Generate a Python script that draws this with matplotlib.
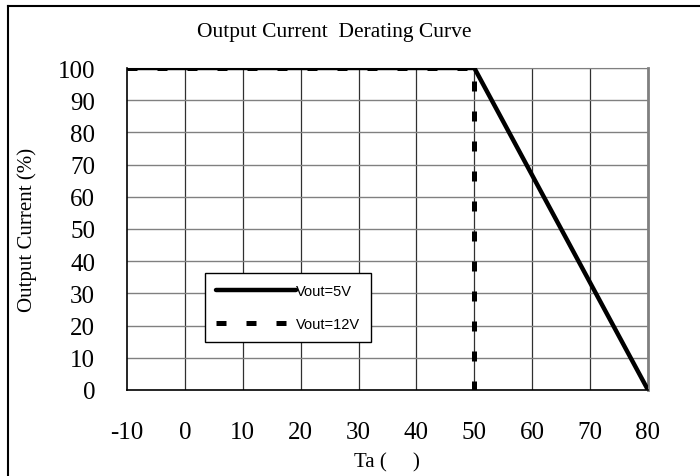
import matplotlib.pyplot as plt
import matplotlib.lines as mlines

# data
ta_5v = [-10, 50, 80]
cur_5v = [100, 100, 0]
ta_12v = [-10, 50, 50]
cur_12v = [100, 100, 0]
x_ticks = [-10, 0, 10, 20, 30, 40, 50, 60, 70, 80]
x_labels = ['-10', '0', '10', '20', '30', '40', '50', '60', '70', '80']
y_ticks = [0, 10, 20, 30, 40, 50, 60, 70, 80, 90, 100]

plt.rcParams['font.family'] = ['Liberation Serif', 'DejaVu Serif']

fig = plt.figure(figsize=(7, 4.77), dpi=100)
ax = fig.add_axes([127/700, 1 - 391/477, 521/700, 322/477])

# outer frame (clipped on right and bottom like the original)
fig.add_artist(mlines.Line2D([8/700, 8/700], [0, 1 - 7/477], color='black', lw=1.5,
                             transform=fig.transFigure))
fig.add_artist(mlines.Line2D([8/700, 1], [1 - 7/477, 1 - 7/477], color='black', lw=1.5,
                             transform=fig.transFigure))

# grid
for x in x_ticks[1:]:
    ax.axvline(x, color='#303030', lw=0.9, zorder=1)
for y in y_ticks[1:]:
    ax.axhline(y, color='#808080', lw=1.0, zorder=1)

ax.plot(ta_12v, cur_12v, color='black', lw=3.6, dashes=(2, 4),
        dash_capstyle='butt', label='Vout=12V', zorder=3)
ax.plot(ta_5v, cur_5v, color='black', lw=3.2, solid_capstyle='round',
        label='Vout=5V', zorder=4)

ax.set_xlim(-10, 80)
ax.set_ylim(0, 100)
ax.set_xticks(x_ticks, x_labels)
ax.set_yticks(y_ticks)
ax.tick_params(axis='both', length=0, labelsize=18)
ax.tick_params(axis='x', pad=22)
ax.tick_params(axis='y', pad=23)

ax.spines['left'].set_color('black')
ax.spines['bottom'].set_color('black')
ax.spines['left'].set_linewidth(1.2)
ax.spines['bottom'].set_linewidth(1.2)
ax.spines['top'].set_color('#808080')
ax.spines['right'].set_color('#808080')
ax.spines['right'].set_linewidth(2)

fig.text(27/700, 1 - 230/477, 'Output Current (%)', fontsize=15, rotation=90,
         ha='center', va='center')
fig.text(387/700, 1 - 463/477, 'Ta (     )', fontsize=15, ha='center', va='center')
fig.text(334/700, 1 - 33/477, 'Output Current  Derating Curve', fontsize=15.5,
         ha='center', va='center')

handles, labels = ax.get_legend_handles_labels()
leg = ax.legend(handles[::-1], labels[::-1], loc='lower left',
                bbox_to_anchor=(0.15, 0.149), handlelength=5.5, handletextpad=0,
                borderpad=0.75, labelspacing=1.3, borderaxespad=0, fancybox=False,
                framealpha=1, edgecolor='black',
                prop={'family': 'Liberation Sans', 'size': 10.5})
leg.get_frame().set_linewidth(1.0)

fig.savefig('out.png', dpi=100)
